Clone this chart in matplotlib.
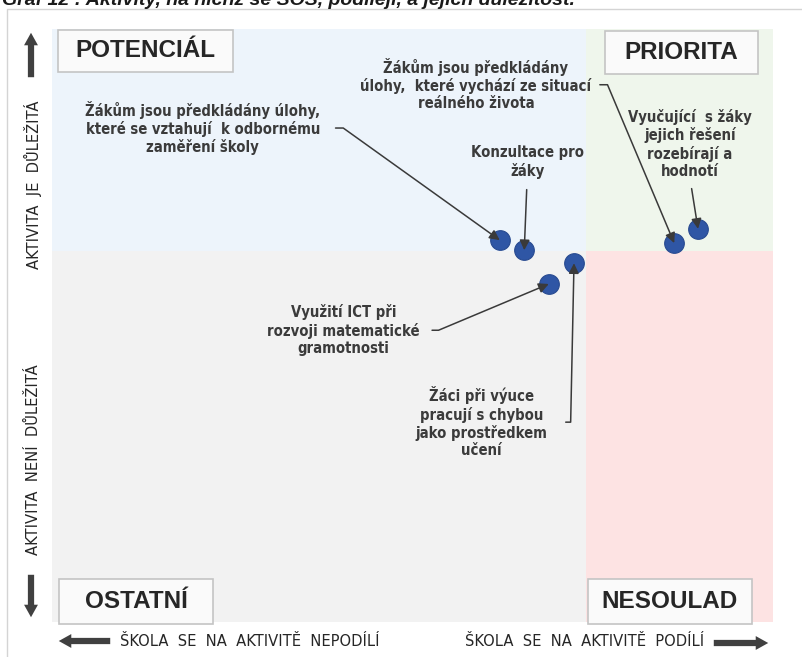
import matplotlib
matplotlib.use("Agg")
import matplotlib.pyplot as plt
from matplotlib.patches import Rectangle, FancyArrowPatch

# Data: podíl škol na aktivitě (osa x) a důležitost aktivity (osa y)
cinnosti = [
    "Žákům jsou předkládány úlohy,\nkteré se vztahují  k odbornému\nzaměření školy",
    "Konzultace pro\nžáky",
    "Využití ICT při\nrozvoji matematické\ngramotnosti",
    "Žáci při výuce\npracují s chybou\njako prostředkem\nučení",
    "Žákům jsou předkládány\núlohy,  které vychází ze situací\nreálného života",
    "Vyučující  s žáky\njejich řešení\nrozebírají a\nhodnotí",
]
podil = [0.621, 0.655, 0.689, 0.724, 0.863, 0.896]
dulezitost = [0.644, 0.627, 0.570, 0.605, 0.639, 0.663]
hranice_x = 0.741
hranice_y = 0.626

kvadranty = ["POTENCIÁL", "PRIORITA", "OSTATNÍ", "NESOULAD"]
titulek = "Graf 12 : Aktivity, na nichž se ŠOŠ, podílejí, a jejich důležitost."

# umístění popisků (střed textu), odkud vede čára, délka ramene, odsazení
popisky_xy = [(0.209, 0.833), (0.659, 0.776), (0.404, 0.492),
              (0.596, 0.337), (0.588, 0.906), (0.885, 0.806)]
relpos = [(1, 0.5), (0.5, 0), (1, 0.5), (1, 0.5), (1, 0.5), (0.5, 0)]
ramena = [23, 0, 19, 23, 16, 0]
odsazeni = [9, 6, 7, 11, 4, 5]

W, H = 803, 657
narrow = ["DejaVu Sans"]
text_col = "#3b3b3b"

fig = plt.figure(figsize=(W / 100, H / 100), dpi=100)


def fx(x, y):
    return (x / W, 1 - y / H)


# ramecek kolem grafu
fig.add_artist(Rectangle(fx(7, 700), 900 / W, 691 / H, transform=fig.transFigure,
                         fill=False, edgecolor="#d4d4d4", lw=1))

fig.text(2 / W, 1 - 5 / H, titulek, fontsize=14, fontstyle="italic",
         fontweight="bold", color="#1a1a1a", va="baseline",
         family=["Liberation Sans", "DejaVu Sans"])

ax = fig.add_axes([52 / W, 35 / H, 721 / W, 593 / H])
ax.set_xlim(0, 1)
ax.set_ylim(0, 1)
ax.axis("off")

# pozadi kvadrantu
ax.add_patch(Rectangle((0, hranice_y), hranice_x, 1 - hranice_y, color="#edf4fb", lw=0))
ax.add_patch(Rectangle((hranice_x, hranice_y), 1 - hranice_x, 1 - hranice_y, color="#eff6ec", lw=0))
ax.add_patch(Rectangle((0, 0), hranice_x, hranice_y, color="#f2f2f2", lw=0))
ax.add_patch(Rectangle((hranice_x, 0), 1 - hranice_x, hranice_y, color="#fde3e3", lw=0))

# popisky kvadrantu v rámečcích
boxy = [(0.008, 0.9275, 0.243, 0.071), (0.767, 0.924, 0.212, 0.0725),
        (0.0097, -0.004, 0.2136, 0.076), (0.743, -0.004, 0.2275, 0.076)]
for nazev, (bx, by, bw, bh) in zip(kvadranty, boxy):
    ax.add_patch(Rectangle((bx, by), bw, bh, facecolor="#fafafa", edgecolor="#c4c4c4",
                           lw=1.2, clip_on=False, zorder=3))
    ax.text(bx + bw / 2, by + bh / 2, nazev, ha="center", va="center",
            fontsize=17.5, fontweight="bold", color="#262626", zorder=4,
            family=["Liberation Sans", "DejaVu Sans"])

ax.scatter(podil, dulezitost, s=200, color="#2f56a5", edgecolor="#284a90",
           lw=0.8, zorder=5)

for i, txt in enumerate(cinnosti):
    if ramena[i]:
        conn = "arc,angleA=0,angleB=0,armA=%d,armB=0,rad=0" % ramena[i]
    else:
        conn = "arc3,rad=0"
    ax.annotate(txt, xy=(podil[i], dulezitost[i]), xytext=popisky_xy[i],
                ha="center", va="center", fontsize=10.6, fontweight="bold",
                fontstretch="condensed",
                color=text_col, family=narrow, linespacing=1.18, zorder=6,
                arrowprops=dict(arrowstyle="-|>,head_length=0.6,head_width=0.3",
                                color="#3a3a3a", lw=1.1, relpos=relpos[i],
                                shrinkA=odsazeni[i], shrinkB=0,
                                mutation_scale=10, connectionstyle=conn))

# osy - sipky a popisky
sipky = [((113, 641), (56, 641)), ((711, 643), (771, 643)),
         ((31, 80), (31, 30)), ((31, 572), (31, 620))]
for a, b in sipky:
    fig.add_artist(FancyArrowPatch(fx(*a), fx(*b), transform=fig.transFigure,
                                   arrowstyle="simple,head_length=0.9,head_width=1.0,tail_width=0.45",
                                   mutation_scale=10, color="#404040", lw=0))

osa_kw = dict(ha="center", va="center", fontsize=11.8, color="#262626",
              family=narrow, fontstretch="condensed")
fig.text(*fx(250, 642), "ŠKOLA  SE  NA  AKTIVITĚ  NEPODÍLÍ", **osa_kw)
fig.text(*fx(585, 642), "ŠKOLA  SE  NA  AKTIVITĚ  PODÍLÍ", **osa_kw)
fig.text(*fx(33, 185), "AKTIVITA  JE  DŮLEŽITÁ", rotation=90, **osa_kw)
fig.text(*fx(33, 460), "AKTIVITA  NENÍ  DŮLEŽITÁ", rotation=90, **osa_kw)

fig.savefig("out.png", dpi=100)
